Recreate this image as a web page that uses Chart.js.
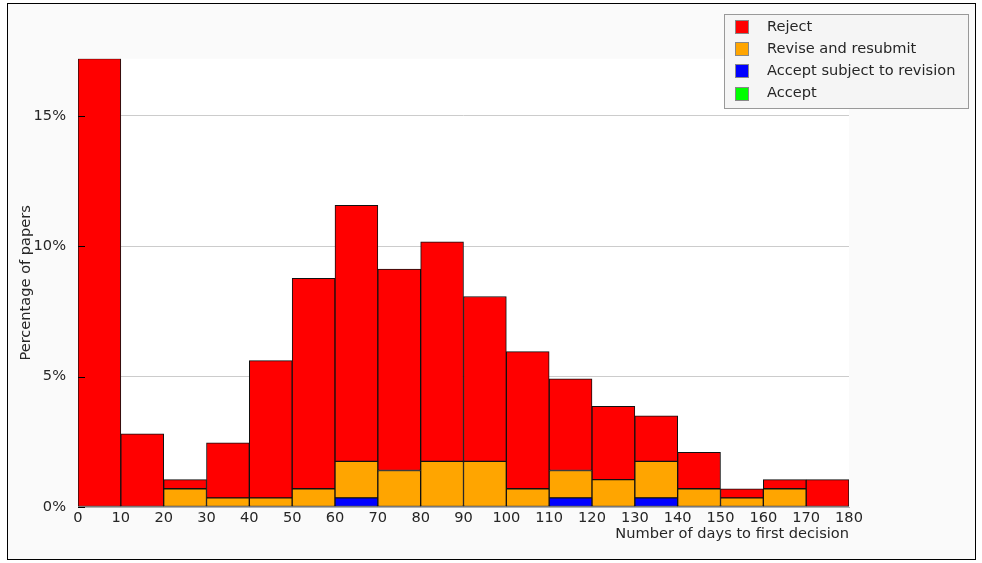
<!DOCTYPE html>
<html>
<head>
<meta charset="utf-8">
<script src="https://cdn.jsdelivr.net/npm/chart.js@4/dist/chart.umd.min.js"></script>
<style>
  html, body { margin: 0; padding: 0; background: #ffffff; }
  #wrap { position: relative; width: 982px; height: 563px; }
  canvas { display: block; }
</style>
</head>
<body>
<div id="wrap"><canvas id="c" width="982" height="563"></canvas></div>
<script>
// Histogram bins (days to first decision), bin starts, width 10 days
const binStarts = [0, 10, 20, 30, 40, 50, 60, 70, 80, 90, 100, 110, 120, 130, 140, 150, 160, 170];
const binWidth = 10;

// Percentage of papers per bin, per decision type
const rejectPct   = [17.19, 2.81, 0.35, 2.11, 5.26, 8.07, 9.82, 7.72, 8.42, 6.32, 5.26, 3.51, 2.81, 1.75, 1.40, 0.35, 0.35, 1.05];
const revisePct   = [0, 0, 0.70, 0.35, 0.35, 0.70, 1.40, 1.40, 1.75, 1.75, 0.70, 1.05, 1.05, 1.40, 0.70, 0.35, 0.70, 0];
const acceptRevPct = [0, 0, 0, 0, 0, 0, 0.35, 0, 0, 0, 0, 0.35, 0, 0.35, 0, 0, 0, 0];
const acceptPct   = [0, 0, 0, 0, 0, 0, 0, 0, 0, 0, 0, 0, 0, 0, 0, 0, 0, 0];

const yTicks = [0, 5, 10, 15];
const xTicks = [0, 10, 20, 30, 40, 50, 60, 70, 80, 90, 100, 110, 120, 130, 140, 150, 160, 170, 180];

const labels = ['Reject', 'Revise and resubmit', 'Accept subject to revision', 'Accept'];
const colors = ['#ff0000', '#ffa500', '#0000ff', '#00ff00'];

const FONT = 'DejaVu Sans';
const FS = 14.6;

function pts(arr) {
  return arr.map((v, i) => ({ x: binStarts[i] + binWidth / 2, y: v }));
}

function ds(label, arr, color) {
  return {
    label: label,
    data: pts(arr),
    backgroundColor: color,
    borderColor: '#111111',
    borderWidth: 1,
    borderSkipped: false,
    barPercentage: 1.0,
    categoryPercentage: 1.0
  };
}

const bgPlugin = {
  id: 'bg',
  beforeDraw(chart) {
    const ctx = chart.ctx;
    const a = chart.chartArea;
    ctx.save();
    ctx.fillStyle = '#ffffff';
    ctx.fillRect(0, 0, chart.width, chart.height);
    ctx.fillStyle = '#fafafa';
    ctx.fillRect(7, 3, 969, 557);
    ctx.strokeStyle = '#000000';
    ctx.lineWidth = 1;
    ctx.strokeRect(7.5, 3.5, 968, 556);
    ctx.fillStyle = '#ffffff';
    ctx.fillRect(a.left, a.top, a.right - a.left, a.bottom - a.top);
    ctx.restore();
  },
  afterDatasetsDraw(chart) {
    const ctx = chart.ctx;
    const y = chart.scales.y;
    const a = chart.chartArea;
    ctx.save();
    ctx.strokeStyle = '#000000';
    ctx.lineWidth = 1;
    yTicks.forEach(v => {
      const py = Math.round(y.getPixelForValue(v)) + 0.5;
      ctx.beginPath();
      ctx.moveTo(a.left, py);
      ctx.lineTo(a.left + 7, py);
      ctx.stroke();
    });
    ctx.restore();
  },
  afterDraw(chart) {
    const ctx = chart.ctx;
    ctx.save();
    // legend box
    ctx.fillStyle = '#f5f5f5';
    ctx.fillRect(724, 14, 245, 95);
    ctx.strokeStyle = '#999999';
    ctx.lineWidth = 1;
    ctx.strokeRect(724.5, 14.5, 244, 94);
    ctx.font = FS + 'px "' + FONT + '"';
    ctx.textBaseline = 'middle';
    ctx.textAlign = 'left';
    labels.forEach((lab, i) => {
      const cy = 27 + i * 22.2;
      ctx.fillStyle = colors[i];
      ctx.fillRect(735, Math.round(cy - 7), 14, 14);
      ctx.strokeStyle = '#888888';
      ctx.strokeRect(735.5, Math.round(cy - 7) + 0.5, 13, 13);
      ctx.fillStyle = '#262626';
      ctx.fillText(lab, 767, cy);
    });
    ctx.restore();
  }
};

const chart = new Chart(document.getElementById('c'), {
  type: 'bar',
  data: {
    datasets: [
      ds(labels[3], acceptPct, colors[3]),
      ds(labels[2], acceptRevPct, colors[2]),
      ds(labels[1], revisePct, colors[1]),
      ds(labels[0], rejectPct, colors[0])
    ]
  },
  options: {
    responsive: false,
    animation: false,
    devicePixelRatio: 1,
    layout: { padding: { left: 0, top: 58.7, right: 133, bottom: 0 } },
    plugins: {
      legend: { display: false },
      tooltip: { enabled: false }
    },
    scales: {
      x: {
        type: 'linear',
        stacked: true,
        offset: false,
        min: 0,
        max: 180,
        grid: { display: false, offset: false, drawTicks: false },
        border: { display: true, color: '#b0b0b0', width: 1 },
        afterBuildTicks(scale) { scale.ticks = xTicks.map(v => ({ value: v })); },
        afterFit(scale) { scale.height = 56; },
        ticks: {
          autoSkip: false,
          maxRotation: 0,
          padding: 2,
          color: '#262626',
          font: { family: FONT, size: FS }
        },
        title: {
          display: true,
          text: 'Number of days to first decision',
          align: 'end',
          color: '#262626',
          font: { family: FONT, size: FS },
          padding: { top: 0, bottom: 20 }
        }
      },
      y: {
        stacked: true,
        min: 0,
        max: 17.19,
        grid: { color: '#cccccc', lineWidth: 1, drawTicks: false },
        border: { display: false },
        afterBuildTicks(scale) { scale.ticks = yTicks.map(v => ({ value: v })); },
        afterFit(scale) { scale.width = 78; },
        ticks: {
          padding: 12,
          color: '#262626',
          font: { family: FONT, size: FS }
        ,
          callback: v => v + '%'
        },
        title: {
          display: true,
          text: 'Percentage of papers',
          color: '#262626',
          font: { family: FONT, size: FS },
          padding: { top: 17, bottom: 0 }
        }
      }
    }
  },
  plugins: [bgPlugin]
});
</script>
</body>
</html>
